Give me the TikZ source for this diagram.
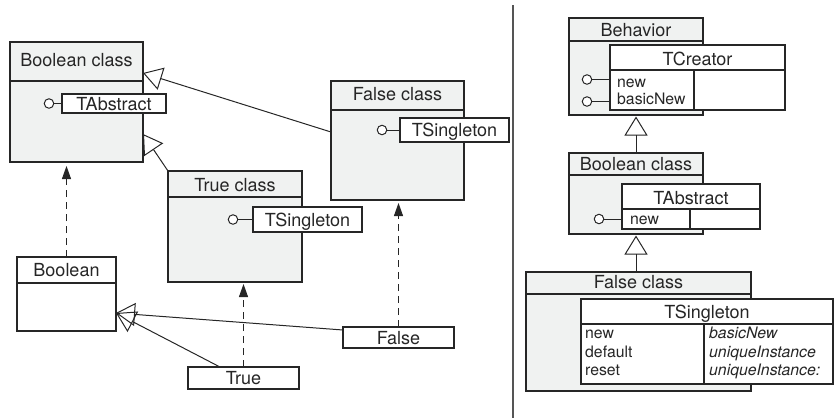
\documentclass[tikz,border=0pt]{standalone}
\usepackage{fontspec}
\setmainfont{TeX Gyre Heros}
\usetikzlibrary{arrows.meta}
\definecolor{clsfill}{RGB}{240,242,241}
\definecolor{ink}{RGB}{38,38,38}
\definecolor{divgray}{RGB}{85,85,85}
\begin{document}
\begin{tikzpicture}[x=1pt,y=-1pt,
  box/.style={draw=ink, line width=1.1pt, inner sep=0pt, outer sep=0pt, rectangle,
    font=\fontsize{18}{20}\selectfont, text=ink, text height=13pt, text depth=0pt},
  cls/.style={box, fill=clsfill},
  obj/.style={box, fill=white},
  big/.style={font=\fontsize{18}{20}\selectfont, text=ink, inner sep=0pt, anchor=base},
  small/.style={font=\fontsize{15.8}{18}\selectfont, text=ink, inner sep=0pt, anchor=base west},
  lolli/.style={circle, draw=ink, fill=white, line width=1pt, minimum size=9.5pt, inner sep=0pt},
  stem/.style={draw=ink, line width=1pt},
  gen/.style={draw=ink, line width=1pt, -{Triangle[open,length=19pt,width=23pt]}},
  dep/.style={draw=ink, line width=1pt, dash pattern=on 7pt off 5pt, -{Triangle[length=13pt,width=9pt]}},
  sep/.style={draw=ink, line width=1.1pt}
]
\useasboundingbox (0,0) rectangle (837,418);

% ---------------- left panel ----------------
% Boolean class
\node[cls, minimum width=133pt, minimum height=120pt] (boolclass) at (76.5,102) {};
\draw[sep] ([yshift=-39pt]boolclass.north west) -- ([yshift=-39pt]boolclass.north east);
\node[big] (boolclasst) at (76.5,66.5) {Boolean class};
\node[obj, minimum width=104pt, minimum height=19pt] (tabsL) at (114,103.5) {TAbstract};
\node[lolli] (lolL) at (49,103.5) {};
\draw[stem] (lolL.east) -- (tabsL.west);

% False class
\node[cls, minimum width=133pt, minimum height=119pt] (falseclass) at (397.5,140.5) {};
\draw[sep] ([yshift=-29pt]falseclass.north west) -- ([yshift=-29pt]falseclass.north east);
\node[big] (falseclasst) at (397.5,100.7) {False class};
\node[obj, minimum width=109pt, minimum height=24pt] (tsingF) at (454.5,130) {TSingleton};
\node[lolli] (lolF) at (382,130) {};
\draw[stem] (lolF.east) -- (tsingF.west);

% True class
\node[cls, minimum width=134pt, minimum height=111pt] (trueclass) at (235,226.5) {};
\draw[sep] ([yshift=-26pt]trueclass.north west) -- ([yshift=-26pt]trueclass.north east);
\node[big] (trueclasst) at (235,191) {True class};
\node[obj, minimum width=109pt, minimum height=25pt] (tsingT) at (307.5,219.5) {TSingleton};
\node[lolli] (lolT) at (233,219.5) {};
\draw[stem] (lolT.east) -- (tsingT.west);

% Boolean
\node[obj, minimum width=99pt, minimum height=74pt] (boolean) at (66.5,294) {};
\draw[sep] ([yshift=-26pt]boolean.north west) -- ([yshift=-26pt]boolean.north east);
\node[big] (booleant) at (66.5,276) {Boolean};

% False / True objects
\node[obj, minimum width=111pt, minimum height=21pt] (falseobj) at (398.5,337.5) {False};
\node[obj, minimum width=111pt, minimum height=22pt] (trueobj) at (243.5,378) {True};

% generalisations
\draw[gen] ([yshift=8.5pt]falseclass.west) -- ([yshift=29pt]boolclass.east);
\draw[gen] (trueclass.north west) -- ([yshift=-32pt]boolclass.east);
\draw[gen] ([yshift=7.5pt]falseobj.west) -- ([yshift=-19pt]boolean.east);
\draw[gen] ([xshift=-23.5pt]trueobj.north) -- ([yshift=-19pt]boolean.east);

% instance-of
\draw[dep, shorten >=4pt] (boolean.north) -- (boolean.north |- boolclass.south);
\draw[dep, shorten >=2pt] (trueobj.north) -- (trueobj.north |- trueclass.south);
\draw[dep, shorten >=3pt] (falseobj.north) -- (falseobj.north |- falseclass.south);

% divider
\coordinate (dtop) at (513,5);
\coordinate (dbot) at (513,418);
\draw[draw=divgray, line width=1.3pt] (dtop) -- (dbot);

% ---------------- right panel ----------------
% Behavior
\node[cls, minimum width=134pt, minimum height=97pt] (behavior) at (636,66.5) {};
\draw[sep] ([yshift=-23pt]behavior.north west) -- ([yshift=-23pt]behavior.north east);
\node[big] (behaviort) at (636,36) {Behavior};
\node[obj, minimum width=175pt, minimum height=65pt] (tcreator) at (697.5,77.5) {};
\draw[sep] ([yshift=-25pt]tcreator.north west) -- ([yshift=-25pt]tcreator.north east);
\draw[sep] ([xshift=84pt]tcreator.south west) -- ([xshift=84pt,yshift=-25pt]tcreator.north west);
\node[big] (tcreatort) at (697.5,65) {TCreator};
\node[small] (tcnew) at (617,87) {new};
\node[small] (tcbasic) at (617,104) {basicNew};
\node[lolli] (lolB1) at (587,79.5) {};
\node[lolli] (lolB2) at (587,101.5) {};
\draw[stem] (lolB1.east) -- (tcreator.west |- lolB1);
\draw[stem] (lolB2.east) -- (tcreator.west |- lolB2);

% Boolean class (right)
\node[cls, minimum width=134pt, minimum height=81pt] (boolclass2) at (636,193.5) {};
\draw[sep] ([yshift=-22pt]boolclass2.north west) -- ([yshift=-22pt]boolclass2.north east);
\node[big] (boolclass2t) at (636,170.7) {Boolean class};
\node[obj, minimum width=138pt, minimum height=45pt] (tabsR) at (691,206.5) {};
\draw[sep] ([yshift=-25pt]tabsR.north west) -- ([yshift=-25pt]tabsR.north east);
\draw[sep] ([xshift=68pt]tabsR.south west) -- ([xshift=68pt,yshift=-25pt]tabsR.north west);
\node[big] (tabsRt) at (691,204) {TAbstract};
\node[small] (tanew) at (630,224) {new};
\node[lolli] (lolR) at (599,219) {};
\draw[stem] (lolR.east) -- (tabsR.west |- lolR);

% False class (right)
\node[cls, minimum width=225pt, minimum height=119pt] (falseclass2) at (638.5,331.5) {};
\draw[sep] ([yshift=-22pt]falseclass2.north west) -- ([yshift=-22pt]falseclass2.north east);
\node[big] (falseclass2t) at (638.5,288.3) {False class};
\node[obj, minimum width=252pt, minimum height=85pt] (tsingR) at (707,341.5) {};
\draw[sep] ([yshift=-25pt]tsingR.north west) -- ([yshift=-25pt]tsingR.north east);
\draw[sep] ([xshift=123pt]tsingR.south west) -- ([xshift=123pt,yshift=-25pt]tsingR.north west);
\node[big] (tsingRt) at (707,318.3) {TSingleton};
\node[small] (r1a) at (585,338.7) {new};
\node[small] (r2a) at (585,357.3) {default};
\node[small] (r3a) at (585,375.7) {reset};
\node[small] (r1b) at (709,338.7) {\itshape basicNew};
\node[small] (r2b) at (709,357.3) {\itshape uniqueInstance};
\node[small] (r3b) at (709,375.7) {\itshape uniqueInstance:};

% generalisations (right)
\draw[gen, shorten >=1.5pt] (boolclass2.north) -- (behavior.south);
\draw[gen, shorten >=1.5pt] (boolclass2.south |- falseclass2.north) -- (boolclass2.south);
\end{tikzpicture}
\end{document}
